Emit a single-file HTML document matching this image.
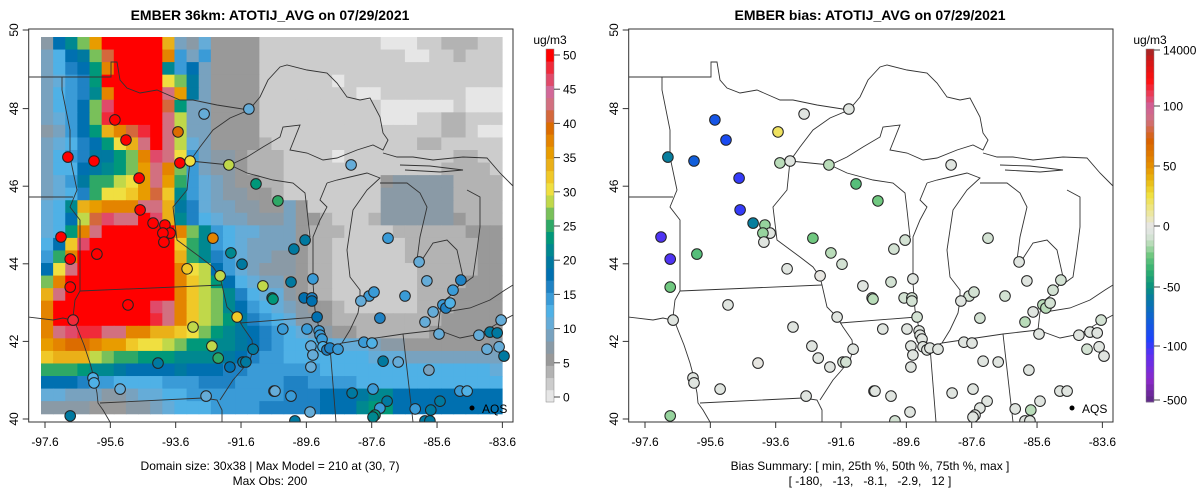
<!DOCTYPE html>
<html><head><meta charset="utf-8">
<style>
html,body{margin:0;padding:0;background:#fff;}
svg{display:block;font-family:"Liberation Sans",Arial,sans-serif;}
</style></head>
<body>
<svg id="fig" width="1200" height="502" viewBox="0 0 1200 502" xmlns="http://www.w3.org/2000/svg">
<defs>
<clipPath id="clipL"><rect x="28.7" y="29" width="484.3" height="393"/></clipPath>
<clipPath id="clipR"><rect x="628.7" y="29" width="484.3" height="393"/></clipPath>
</defs>
<g id="left"></g>
<g id="right"></g>
</svg>
<script>
// ---------- DATA ----------
// model grid: 30 rows x 38 cols, each char = colour bin index (base 36, 0..28 => 0..50 ug/m3)
const S = n => "s".repeat(n);
const gridRows = [
"4acfk"+S(5)+"j546"+"333311"+"111111110001122211",
"57abfn"+S(4)+"l858"+"333311"+"111111111100112111",
"579adl"+S(4)+"c8a5"+"333311"+"111111111111111111",
"5689d"+S(5)+"hfb5"+"333311"+"111101111111111111",
"5789cl"+S(4)+"okb5"+"333311"+"111111001111111000",
"578afq"+S(4)+"nd55"+"333311"+"111111110000001000",
"568afr"+S(4)+"og55"+"333311"+"111111110001122111",
"458adjlnrsog55"+"333311"+"111111111111122100",
"5679adhjosog65"+"333321"+"111111111112211111",
"5789bbdflqoh85"+"443222"+"111101111111112211",
"577abcdfkolf85"+"443222"+"111111111111122221",
"568beeghkoke86"+"543322"+"111111113444442222",
"5679ehhiknic86"+"544332"+"111111114444442222",
"67cjkllloojb96"+"554433"+"531111114444442222",
"67agnqoosqjc97"+"655444"+"533211124444443222",
"67dlo"+S(6)+"lfc876655"+"532221111222222333",
"7aiq"+S(7)+"iec876555"+"532211111122222233",
"8els"+S(7)+"jec986554"+"432211111122222233",
"ahos"+S(7)+"lhga86544"+"432211111112222233",
"fl"+S(9)+"ligda7655"+"332211111112222333",
"jo"+S(9)+"ligfc9766"+"432211111112223333",
"l"+S(8)+"qoligfca876"+"543321111112223333",
"l"+S(8)+"roligfdb987"+"644322222222233333",
"loqrroolljjihfdcba98"+"765433222222333333",
"klmmlkkihhgfddccba98"+"777766654433333334",
"ijjjgfeedddccccba988"+"777777766655555555",
"eeedccbaaaabaaa99888"+"888777777777777776",
"aaa98877778889998888"+"998888777777777777",
"66555445667788888888"+"999aaabccaaaaaaaaa",
"44443334456777888899"+"999aaacddaaaaaaaaa"
];
const stationLon = [-96.90,-96.10,-95.46,-95.12,-93.53,-94.72,-93.47,-93.16,-92.73,-91.36,-91.97,-91.14,-90.47,-94.69,-94.29,-93.93,-93.77,-93.99,-93.96,-97.11,-92.46,-96.01,-96.83,-91.91,-91.57,-93.25,-92.24,-96.83,-90.93,-90.65,-95.06,-91.72,-96.74,-93.07,-92.49,-92.30,-94.14,-91.23,-91.94,-91.54,-91.45,-96.13,-96.10,-95.30,-92.67,-90.59,-96.83,-90.07,-89.95,-89.64,-89.98,-87.10,-86.15,-90.07,-89.40,-90.62,-89.67,-89.43,-89.43,-85.91,-84.87,-85.11,-87.68,-87.53,-87.93,-86.58,-85.72,-85.42,-85.33,-85.20,-89.27,-87.35,-85.97,-90.32,-89.58,-89.21,-89.18,-85.54,-84.32,-83.98,-83.76,-83.64,-89.46,-89.12,-89.09,-88.97,-88.88,-88.63,-89.40,-87.84,-87.59,-89.46,-87.25,-86.79,-85.85,-84.07,-83.70,-83.55,-90.56,-88.20,-87.56,-87.13,-87.35,-87.50,-87.56,-89.49,-86.27,-85.79,-85.51,-84.90,-84.68,-85.97,-85.82,-88.23];
const stationLat = [46.75,46.65,47.71,47.19,47.40,46.21,46.60,46.65,47.86,47.99,46.55,46.06,45.62,45.39,45.05,45.00,44.79,44.79,44.56,44.69,44.66,44.25,44.12,44.28,43.99,43.87,43.69,43.40,43.43,43.12,42.94,42.63,42.55,42.37,41.88,41.57,41.44,41.80,41.34,41.47,41.47,41.06,40.93,40.77,40.59,40.72,40.08,40.59,39.95,44.61,44.38,44.66,44.05,43.53,43.61,43.09,43.12,43.12,43.04,43.56,43.58,43.32,43.17,43.27,43.04,43.17,42.76,42.94,42.86,42.99,42.63,42.60,42.50,42.32,42.32,42.27,42.16,42.19,42.16,42.24,42.22,42.55,41.88,42.06,41.86,41.78,41.83,41.80,41.65,41.98,41.96,41.34,41.49,41.47,41.26,41.80,41.86,41.62,40.72,40.67,40.77,40.46,40.28,40.10,40.05,40.18,40.26,40.23,40.46,40.72,40.72,39.95,39.95,46.55];
const obsValue = [55,55,55,55,40,55,55,30,10,10,28,24,25,55,55,55,55,55,55,55,38,55,55,22,20,32,28,55,28,24,55,33,48,28,28,25,20,19,18,20,20,13,13,10,10,10,19,15,20,20,20,14,11,20,14,24,18,16,17,11,16,15,15,15,11,15,11,15,16,12,18,16,11,15,15,15,15,11,11,19,19,11,10,14,13,16,16,14,10,15,12,10,19,11,9,11,11,19,11,19,15,19,15,24,22,10,15,19,19,15,12,19,19,10];
const biasValue = [-60,-80,-85,-90,20,-110,-15,-5,-5,-5,-15,-30,-25,-110,-60,-20,-5,-20,-5,-150,-25,-30,-140,-15,-10,-5,0,-25,-5,-10,-5,-5,-5,-5,-5,-5,0,-5,-5,-8,-8,-5,-5,-3,-3,-5,-20,-3,-10,-10,-10,-8,-5,-8,-5,-15,-8,-8,-8,-5,-10,-8,-8,-8,-5,-8,-5,-15,-15,-10,-8,-10,-15,-5,-5,-5,-5,-5,-5,-5,-5,-10,-3,-5,-5,-5,-5,-5,-3,-5,-5,-3,-5,-5,-3,-8,-5,-5,-3,-3,-3,-5,-5,-5,-5,-3,-3,-15,-3,-3,-3,-5,-5,-5];
const xTicks = [-97.6,-95.6,-93.6,-91.6,-89.6,-87.6,-85.6,-83.6];
const yTicks = [40,42,44,46,48,50];
const obsTicks = [0,5,10,15,20,25,30,35,40,45,50];
const biasTickLabels = ["-500","-100","-50","0","50","100","14000"];
const biasTickVals = [-500,-100,-50,0,50,100,14000];

// ---------- SCALES ----------
const NS="http://www.w3.org/2000/svg";
function lonX(lon){return 45+(lon+97.6)*32.67;}
function latY(lat){return 419-(lat-40)*38.8;}
const binColors=["#e6e6e6","#cccccc","#b3b3b3","#999999","#8a9aa6","#78a2bf","#65acd8","#4fb1e6","#3a9bd7","#1f82c4","#0070b0","#0079a0","#008890","#00987a","#2ea866","#79c05a","#c0d84a","#f0df40","#f0c828","#eab018","#e89c00","#e48400","#dc6c00","#d4683c","#d27080","#d26898","#e04a6a","#f02a3a","#ff0000"];
function obsBin(v){return Math.max(0,Math.min(28,Math.round(v*28/50)));}
const biasTickY=[400,346,287,226,166,106,50];
function biasY(v){
  for(let i=0;i<biasTickVals.length-1;i++){
    if(v<=biasTickVals[i+1]){const t=(v-biasTickVals[i])/(biasTickVals[i+1]-biasTickVals[i]);return biasTickY[i]+t*(biasTickY[i+1]-biasTickY[i]);}
  }
  return 50;
}
const gradStops=[[402,[90,42,128]],[380,[138,40,200]],[355,[96,48,240]],[340,[32,64,255]],[320,[16,96,216]],[300,[8,120,168]],[287,[8,144,126]],[270,[48,176,112]],[255,[112,200,128]],[245,[176,218,176]],[235,[220,228,220]],[226,[230,230,230]],[215,[236,232,170]],[195,[240,224,64]],[180,[232,184,16]],[166,[230,144,0]],[140,[216,96,0]],[120,[208,112,128]],[106,[208,96,152]],[95,[232,64,96]],[80,[255,16,16]],[60,[208,24,24]],[48,[160,40,40]]];
function gradAt(y){
  for(let i=0;i<gradStops.length-1;i++){
    const a=gradStops[i],b=gradStops[i+1];
    if(y<=a[0]&&y>=b[0]){const t=(a[0]-y)/(a[0]-b[0]);const c=a[1].map((v,k)=>Math.round(v+t*(b[1][k]-v)));return "rgb("+c.join(",")+")";}
  }
  return y>402?"rgb(90,42,128)":"rgb(160,40,40)";
}
function biasColor(v){const y=biasY(v);const yb=402-Math.floor((402-y)/6)*6-3;return gradAt(yb);}

function mk(tag,attrs,parent){const e=document.createElementNS(NS,tag);for(const k in attrs)e.setAttribute(k,attrs[k]);if(parent)parent.appendChild(e);return e;}

// map outlines (background geography, left-panel pixel frame)
const mapLines=[
 [[28,77],[111,77],[111,62],[117,62],[120,80],[127,88],[140,93],[157,90],[173,97],[180,100],[193,100],[217,105],[249,110]],
 [[190,161],[200,147],[213,130],[230,118],[249,110],[260,97],[268,80],[280,67],[287,65],[307,70],[327,73],[337,83],[347,97],[360,100],[370,98],[380,117],[383,133],[388,140],[383,150],[373,145],[357,150],[337,158],[323,160],[307,153],[290,150],[300,125],[283,127],[280,137],[263,147],[247,157],[230,165],[190,161]],
 [[230,165],[247,173],[273,180],[293,183],[305,193],[307,210],[310,237]],
 [[327,183],[337,180],[350,177],[367,173],[380,178],[367,190],[353,210],[347,250],[350,277],[360,290],[360,300],[358,313],[350,330],[342,343],[330,347],[320,333],[315,310],[313,283],[313,237],[320,220],[327,207],[320,200],[327,183]],
 [[380,183],[407,183],[420,193],[427,207],[420,237],[417,260],[420,263],[433,243],[447,240],[457,250],[463,277],[460,283],[455,292],[445,300],[440,312],[438,330],[460,338],[480,334],[500,322],[513,315]],
 [[383,153],[397,157],[413,157],[433,160],[463,157],[487,158],[500,173],[510,183],[513,186]],
 [[400,165],[430,166],[463,170],[440,172],[405,170]],
 [[467,190],[480,197],[480,227],[477,250],[473,277],[462,285]],
 [[445,312],[470,308],[490,300],[505,290],[513,285]],
 [[62,77],[62,90],[70,130],[70,157],[77,190],[70,207],[80,220],[80,291]],
 [[28,197],[73,197]],
 [[28,317],[53,320],[63,318],[72,320],[75,322]],
 [[80,291],[75,300],[73,317],[78,330],[84,345],[90,363],[94,378],[97,393],[98,403],[103,410],[110,422]],
 [[80,291],[222,285]],
 [[100,403],[203,398],[217,400],[222,410],[222,422]],
 [[190,161],[187,190],[173,207],[177,240],[200,257],[213,267],[220,277],[222,285],[227,307],[237,317],[243,327],[252,340],[253,350],[250,360],[240,372],[233,380],[220,400]],
 [[240,323],[317,317]],
 [[330,347],[336,422]],
 [[342,343],[403,334],[438,330]],
 [[403,334],[413,422]]
];

function drawPanel(g,dx,clipId,isBias){
  const inner=mk("g",{"clip-path":"url(#"+clipId+")"},g);
  if(!isBias){
    const hm=mk("g",{},inner);
    
    
    const cw=(502-41)/38, ch=(413.7-37)/30;
    gridRows.forEach((row,r)=>{
      for(let c=0;c<38;c++){
        const ch0=row[c]!==undefined?row[c]:row[row.length-1];
        const b=Math.min(28,parseInt(ch0,36));
        const rc=mk("rect",{x:(41+c*cw).toFixed(2),y:(37+r*ch).toFixed(2),width:(cw+0.6).toFixed(2),height:(ch+0.6).toFixed(2),fill:binColors[b]},hm);
        
        
      }
    });
  }
  const mp=mk("g",{fill:"none",stroke:"#333","stroke-width":"0.9"},inner);
  
  
  mapLines.forEach(l=>{mk("polyline",{points:l.map(p=>(p[0]+dx)+","+p[1]).join(" ")},mp);});
  const pts=mk("g",{},inner);
  
  
  for(let i=0;i<stationLon.length;i++){
    const fill=isBias?biasColor(biasValue[i]):binColors[obsBin(obsValue[i])];
    const c=mk("circle",{cx:(lonX(stationLon[i])+dx).toFixed(1),cy:latY(stationLat[i]).toFixed(1),r:"5.3",fill:fill,stroke:"#222","stroke-width":"1"},pts);
    
    
  }
  const lg=mk("g",{},g);
  
  
  mk("circle",{cx:472+dx,cy:408,r:2.5,fill:"#000"},lg);
  const lt=mk("text",{x:482+dx,y:413,"font-size":"12",fill:"#000"},lg);lt.textContent="AQS";
  const fr=mk("rect",{x:28.7+dx,y:29,width:484.3,height:393,fill:"none",stroke:"#333","stroke-width":"1"},g);
  
  
  const ax=mk("g",{"font-size":"12",fill:"#000"},g);
  
  
  xTicks.forEach(v=>{const x=lonX(v)+dx;mk("line",{x1:x,y1:422,x2:x,y2:428,stroke:"#333"},ax);const t=mk("text",{x:x,y:446,"text-anchor":"middle"},ax);t.textContent=v.toFixed(1);});
  const ay=mk("g",{"font-size":"12",fill:"#000"},g);
  
  
  yTicks.forEach(v=>{const y=latY(v)+(v===50?-1:0);mk("line",{x1:28.7+dx,y1:y,x2:22.7+dx,y2:y,stroke:"#333"},ay);const t=mk("text",{x:0,y:0,"text-anchor":"middle",transform:"translate("+(18+dx)+","+y+") rotate(-90)"},ay);t.textContent=String(v);});
}

const L=document.getElementById("left"),R=document.getElementById("right");
drawPanel(L,0,"clipL",false);
drawPanel(R,600,"clipR",true);

function title(g,x,s,name){const t=mk("text",{x:x,y:20,"text-anchor":"middle","font-size":"14","font-weight":"bold"},g);t.textContent=s;}
title(L,270,"EMBER 36km: ATOTIJ_AVG on 07/29/2021","model-title");
title(R,870,"EMBER bias: ATOTIJ_AVG on 07/29/2021","bias-title");
function note(g,x,y,s,name){const t=mk("text",{x:x,y:y,"text-anchor":"middle","font-size":"12",style:"white-space:pre"},g);t.textContent=s;}
note(L,270,470,"Domain size: 30x38 | Max Model = 210 at (30, 7)","domain-summary");
note(L,270,485,"Max Obs: 200","max-obs-note");
note(R,870,470,"Bias Summary: [ min, 25th %, 50th %, 75th %, max ]","bias-summary-header");
note(R,870,485,"[ -180,   -13,   -8.1,   -2.9,   12 ]","bias-summary-values");

const cb=mk("g",{},L);


const bh=(402-49)/29;
for(let b=0;b<29;b++){mk("rect",{x:546,y:(402-(b+1)*bh).toFixed(2),width:8,height:(bh+0.4).toFixed(2),fill:binColors[b]},cb);}
mk("rect",{x:546,y:49,width:8,height:353,fill:"none",stroke:"#888","stroke-width":"0.5"},cb);
obsTicks.forEach(v=>{const y=397-v*6.84;mk("line",{x1:554,y1:y,x2:560,y2:y,stroke:"#444"},cb);const t=mk("text",{x:563,y:y+4.5,"font-size":"12"},cb);t.textContent=String(v);});
const u1=mk("text",{x:550,y:44,"text-anchor":"middle","font-size":"12"},cb);u1.textContent="ug/m3";

const cb2=mk("g",{},R);


for(let y=402;y>49;y-=6){mk("rect",{x:1146,y:Math.max(49,y-6),width:8,height:6.4,fill:gradAt(y-3)},cb2);}
mk("rect",{x:1146,y:49,width:8,height:353,fill:"none",stroke:"#888","stroke-width":"0.5"},cb2);
biasTickVals.forEach((v,i)=>{const y=biasY(v);mk("line",{x1:1154,y1:y,x2:1160,y2:y,stroke:"#444"},cb2);const t=mk("text",{x:1163,y:y+4.5,"font-size":"12"},cb2);t.textContent=biasTickLabels[i];});
const u2=mk("text",{x:1150,y:44,"text-anchor":"middle","font-size":"12"},cb2);u2.textContent="ug/m3";
</script>
</body></html>
